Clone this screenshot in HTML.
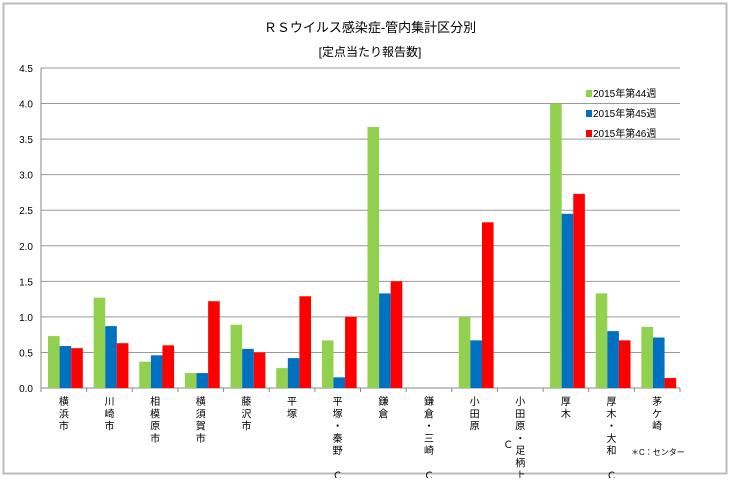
<!DOCTYPE html>
<html><head><meta charset="utf-8"><style>
body{margin:0;background:#fff;font-family:"Liberation Sans","Noto Sans CJK JP",sans-serif;}
</style></head><body>
<svg width="731" height="478" xmlns="http://www.w3.org/2000/svg" font-family="Liberation Sans, Noto Sans CJK JP, sans-serif">
<rect x="3.5" y="3.5" width="723" height="470" fill="#fff" stroke="#bbb" stroke-width="2"/>
<text x="370" y="32" font-size="13" text-anchor="middle">ＲＳウイルス感染症-管内集計区分別</text>
<text x="370" y="56" font-size="12" text-anchor="middle">[定点当たり報告数]</text>
<g id="grid"></g><g id="bars"></g><g id="labels"></g>
<g font-size="10">
<rect x="586" y="90" width="6" height="7" fill="#92d050"/><text x="593" y="97">2015年第44週</text>
<rect x="586" y="110" width="6" height="7" fill="#0070c0"/><text x="593" y="117">2015年第45週</text>
<rect x="586" y="130" width="6" height="7" fill="#ff0000"/><text x="593" y="137">2015年第46週</text>
</g>
<text x="631" y="455" font-size="8">＊C：センター</text>
</svg>
<script>
const categories=[["横","浜","市"],["川","崎","市"],["相","模","原","市"],["横","須","賀","市"],["藤","沢","市"],["平","塚"],["平","塚","・","秦","野","","Ｃ"],["鎌","倉"],["鎌","倉","・","三","崎","","Ｃ"],["小","田","原"],["小","田","原","・","足","柄","上"],["厚","木"],["厚","木","・","大","和","","Ｃ"],["茅","ケ","崎"]];
const week44=[0.73,1.27,0.37,0.21,0.89,0.28,0.67,3.67,0,1.00,0,4.00,1.33,0.86];
const week45=[0.59,0.87,0.46,0.21,0.55,0.42,0.15,1.33,0,0.67,0,2.45,0.80,0.71];
const week46=[0.56,0.63,0.60,1.22,0.50,1.29,1.00,1.50,0,2.33,0,2.73,0.67,0.14];
const yTicks=["0.0","0.5","1.0","1.5","2.0","2.5","3.0","3.5","4.0","4.5"];
const NS="http://www.w3.org/2000/svg";
const X0=41,X1=680,Y0=388,Y1=68,YMAX=4.5;
const gw=(X1-X0)/categories.length;
function y(v){return Y0-(v/YMAX)*(Y0-Y1);}
function mk(t,a,p){const e=document.createElementNS(NS,t);for(const k in a)e.setAttribute(k,a[k]);p.appendChild(e);return e;}
const grid=document.getElementById('grid'),bars=document.getElementById('bars'),labels=document.getElementById('labels');
yTicks.forEach((t)=>{const v=parseFloat(t);const yy=y(v);
const l=mk('line',{x1:X0,x2:X1,y1:yy,y2:yy,stroke:v===0?'#888':'#999','stroke-width':1},grid);


const tx=mk('text',{x:33,y:yy+4,'font-size':10,'text-anchor':'end'},grid);tx.textContent=t;

});
const ax=mk('line',{x1:X0,x2:X0,y1:Y1,y2:Y0,stroke:'#888'},grid);


const series=[[week44,'#92d050'],[week45,'#0070c0'],[week46,'#ff0000']];
categories.forEach((c,i)=>{const gx=X0+i*gw;
const tk=mk('line',{x1:gx,x2:gx,y1:Y0,y2:Y0+4,stroke:'#888'},grid);


series.forEach(([d,col],s)=>{const v=d[i];if(v<=0)return;
const r=mk('rect',{x:gx+7+s*11.6,y:y(v),width:11.6,height:Y0-y(v),fill:col},bars);

});
const cx=gx+gw/2;
c.forEach((ch,j)=>{if(!ch)return;const t=mk('text',{x:cx,y:405+j*12.3,'font-size':10,'text-anchor':'middle'},labels);t.textContent=ch;

});
if(i===10){const t=mk('text',{x:cx-12,y:405+4*12.3-6,'font-size':10,'text-anchor':'middle'},labels);t.textContent='Ｃ';

}
});
const ex=mk('line',{x1:X1,x2:X1,y1:Y0,y2:Y0+4,stroke:'#888'},grid);


</script>
</body></html>
